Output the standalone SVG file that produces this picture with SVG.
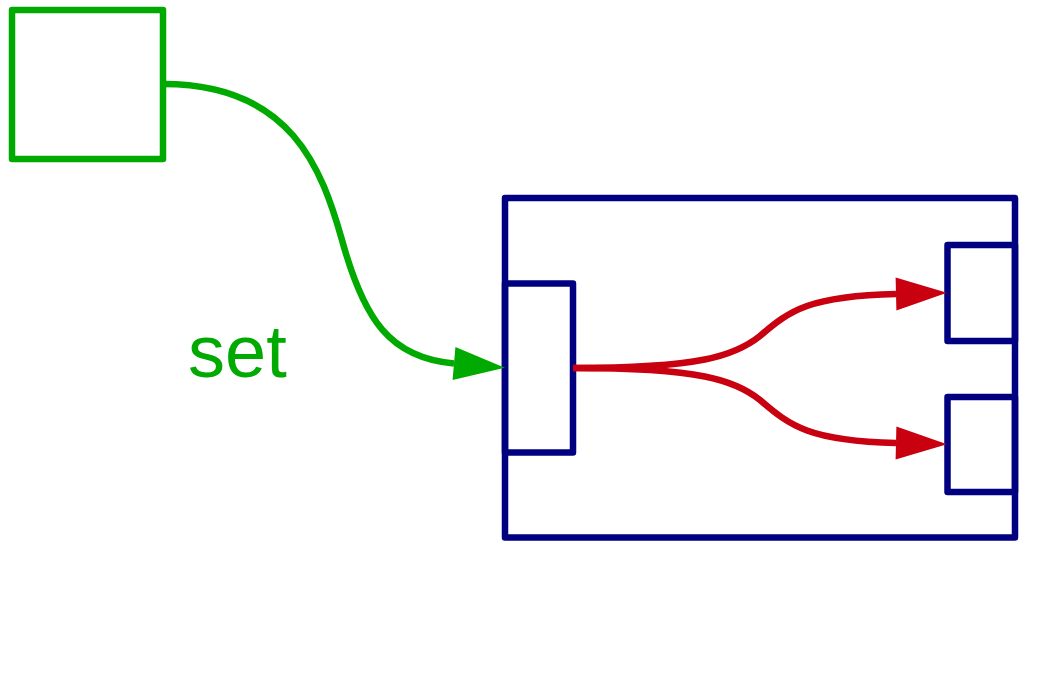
<svg xmlns="http://www.w3.org/2000/svg" width="1057" height="689" viewBox="0 0 1057 689">
  <style>
    .src { fill: none; stroke: #00aa00; stroke-width: 6.5; stroke-linejoin: round; }
    .blk { fill: none; stroke: #000080; stroke-width: 6.5; stroke-linejoin: round; }
    .set { fill: none; stroke: #00aa00; stroke-width: 6.5; }
    .fan { fill: none; stroke: #c8000f; stroke-width: 6.5; }
    .lbl { font-family: "Liberation Sans", Arial, sans-serif; font-size: 74px; fill: #00aa00; }
  </style>
  <defs>
    <marker id="ahG" markerUnits="userSpaceOnUse" markerWidth="52" markerHeight="34" refX="0" refY="16.5" orient="auto" overflow="visible">
      <path d="M0,0 L51,16.5 L0,33 Z" fill="#00aa00"/>
    </marker>
    <marker id="ahR" markerUnits="userSpaceOnUse" markerWidth="52" markerHeight="34" refX="0" refY="16.5" orient="auto" overflow="visible">
      <path d="M0,0 L51,16.5 L0,33 Z" fill="#c8000f"/>
    </marker>
  </defs>
  <rect width="1057" height="689" fill="#ffffff"/>

  <g id="source">
    <rect class="src" x="12" y="10" width="151" height="149"/>
  </g>

  <g id="block">
    <rect class="blk" x="505" y="198" width="510" height="339.5"/>
  </g>
  <g id="in-port">
    <rect class="blk" x="505" y="283.5" width="68" height="169"/>
  </g>
  <g id="out-port-1">
    <rect class="blk" x="947.5" y="245" width="67.5" height="96"/>
  </g>
  <g id="out-port-2">
    <rect class="blk" x="947.5" y="397" width="67.5" height="95"/>
  </g>

  <g id="connectors">
    <path class="set" d="M163,84 C292,84 322,170 342,240 C364,320 390,358 454,363.5" marker-end="url(#ahG)"/>
    <path class="fan" d="M573,368 C700,368 735,356 760,336 C790,310 810,296 896,294" marker-end="url(#ahR)"/>
    <path class="fan" d="M573,368 C700,368 735,380 760,400 C790,426 810,441 896,443" marker-end="url(#ahR)"/>
  </g>

  <g id="label">
    <text class="lbl" x="188" y="377">set</text>
  </g>
</svg>
